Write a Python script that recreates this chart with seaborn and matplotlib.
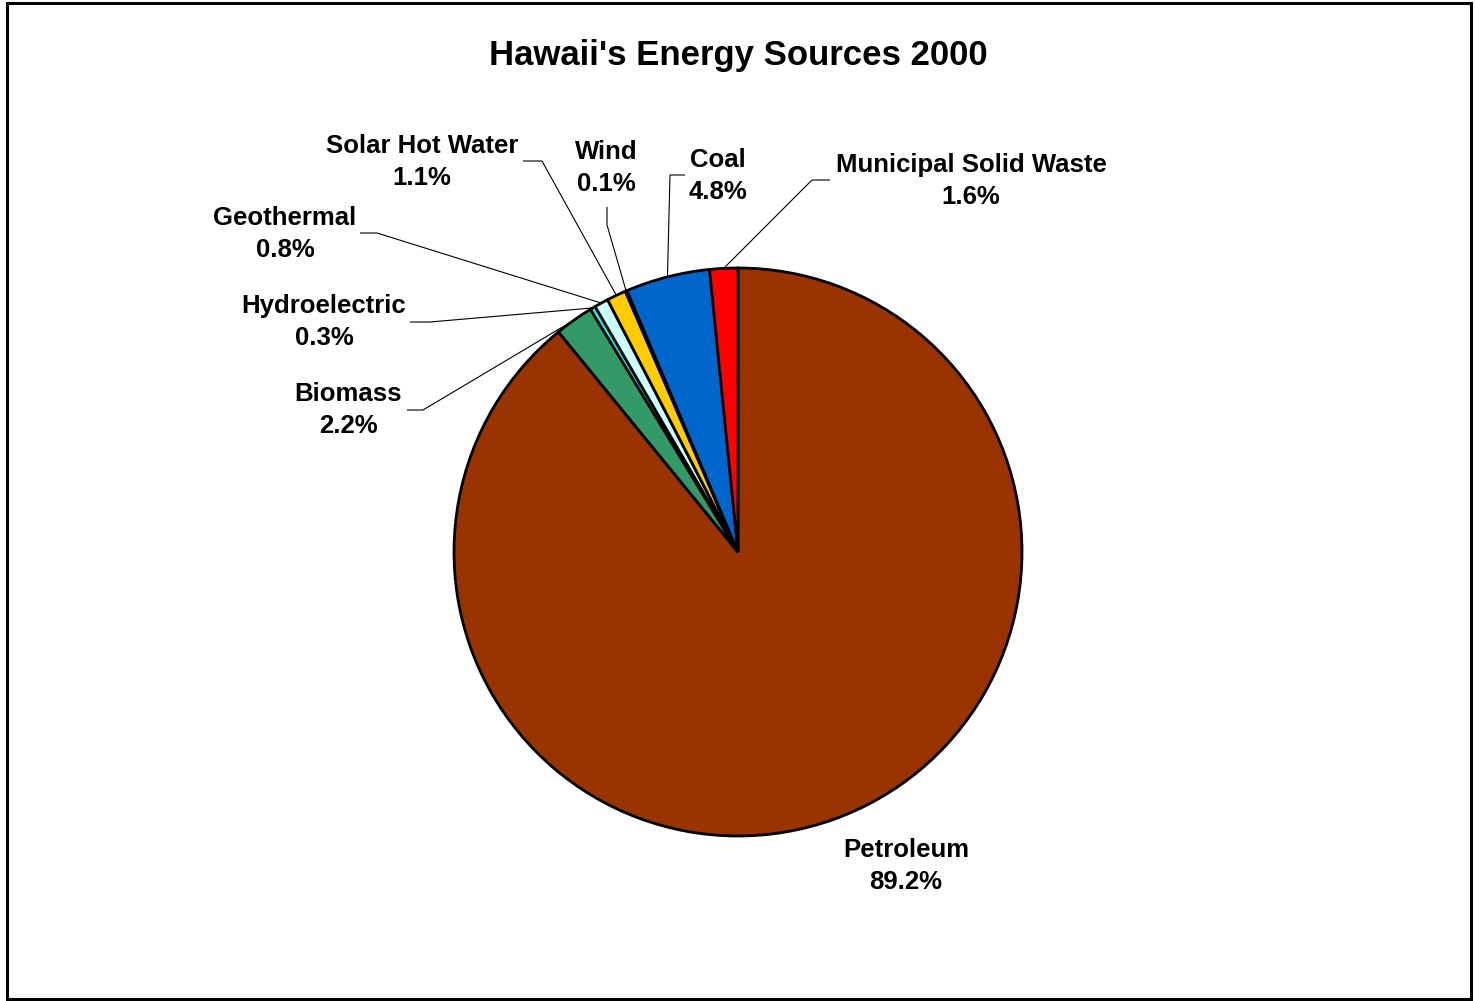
import numpy as np
import pandas as pd
import seaborn as sns
import matplotlib
matplotlib.use("Agg")
import matplotlib.pyplot as plt
from matplotlib.patches import Rectangle

# ---- data ----
categories = ["Petroleum", "Biomass", "Hydroelectric", "Geothermal",
              "Solar Hot Water", "Wind", "Coal", "Municipal Solid Waste"]
shares = [89.2, 2.2, 0.3, 0.8, 1.1, 0.1, 4.8, 1.6]
colors = ["#993300", "#339966", "#00FFFF", "#CCFFFF",
          "#FFCC00", "#3366FF", "#0066CC", "#FF0000"]
title = "Hawaii's Energy Sources 2000"

df = pd.DataFrame({"source": categories, "share": shares, "color": colors})

# ---- layout (pixel coordinates, y measured from top) ----
W, H = 1475, 1001
label_centers = {
    "Petroleum": (906, 866),
    "Biomass": (348, 410),
    "Hydroelectric": (324, 322),
    "Geothermal": (285, 234),
    "Solar Hot Water": (422, 162),
    "Wind": (606, 168),
    "Coal": (718, 176),
    "Municipal Solid Waste": (971, 181),
}
leader_anchors = {
    "Biomass": [(407, 410), (423, 410)],
    "Hydroelectric": [(410, 322), (430, 322)],
    "Geothermal": [(360, 233), (377, 233)],
    "Solar Hot Water": [(523, 161), (542, 161)],
    "Wind": [(607, 207), (607, 225)],
    "Coal": [(685, 175), (670, 175)],
    "Municipal Solid Waste": [(830, 180), (812, 180)],
}
pie_center_px = (738, 552)
pie_radius = 284

sns.set_theme(style="white")
plt.rcParams["font.family"] = ["Liberation Sans", "DejaVu Sans"]

fig = plt.figure(figsize=(W / 100, H / 100), dpi=100)
fig.patch.set_facecolor("white")
ax = fig.add_axes([0, 0, 1, 1])

def fy(y):
    return H - y

center = (pie_center_px[0], fy(pie_center_px[1]))
wedges, _ = ax.pie(df["share"], colors=df["color"], startangle=90,
                   counterclock=False, center=center, radius=pie_radius,
                   wedgeprops=dict(edgecolor="black", linewidth=2.0))
ax.set_xlim(0, W)
ax.set_ylim(0, H)
ax.set_aspect("equal")
ax.axis("off")

for name, val, w in zip(df["source"], df["share"], wedges):
    cx, cy = label_centers[name]
    ax.text(cx, fy(cy), f"{name}\n{val:.1f}%", ha="center", va="center",
            fontsize=18.5, fontweight="bold", color="black", linespacing=1.45)
    if name in leader_anchors:
        mid = np.deg2rad((w.theta1 + w.theta2) / 2)
        ex = center[0] + pie_radius * np.cos(mid)
        ey = center[1] + pie_radius * np.sin(mid)
        pts = leader_anchors[name]
        xs = [p[0] for p in pts] + [ex]
        ys = [fy(p[1]) for p in pts] + [ey]
        ax.plot(xs, ys, color="black", lw=0.8, solid_capstyle="butt")

ax.text(738, fy(56), title, ha="center", va="center", fontsize=25,
        fontweight="bold", color="black")

# outer frame
ax.add_patch(Rectangle((7, fy(999)), 1464, 996, fill=False, edgecolor="black",
                       lw=2.2, clip_on=False))

fig.savefig("out.png", dpi=100, facecolor="white")
